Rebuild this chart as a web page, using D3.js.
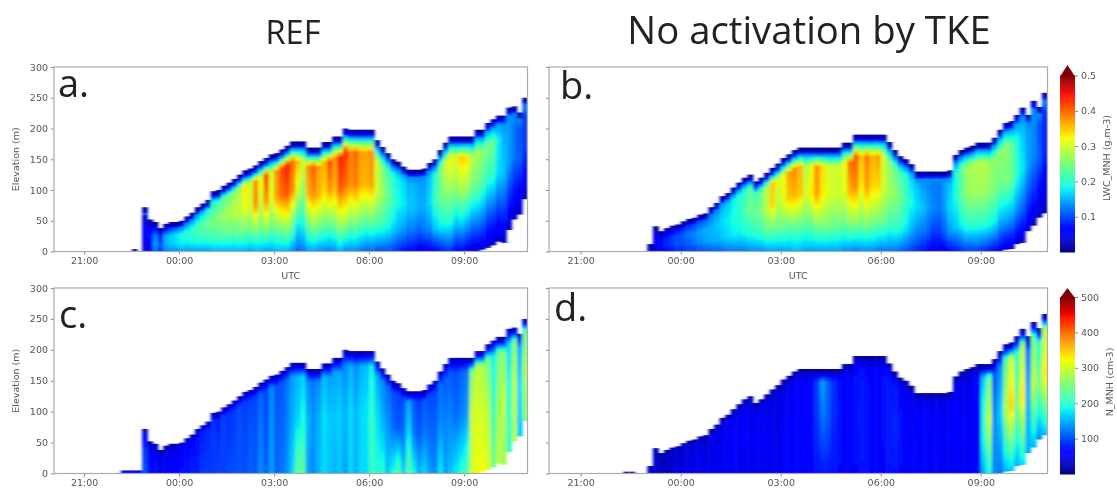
<!DOCTYPE html>
<html>
<head>
<meta charset="utf-8">
<script src="https://cdn.jsdelivr.net/npm/d3@7"></script>
<style>
  html, body { margin: 0; padding: 0; background: #fff; }
  svg { display: block; filter: blur(0.45px); }
  text { font-family: "DejaVu Sans", sans-serif; fill: #555; }
  .title, .letter { font-family: "Open Sans", sans-serif; fill: #222; }
</style>
</head>
<body>
<script>
//////////////////////
// Data, one column every 10 minutes from 22:50 to 11:00 UTC
//////////////////////

// cloud top and base (m)
var topRef = [72,52,48,38,45,48,48,50,57,63,72,78,84,98,100,107,112,118,125,132,135,140,147,152,158,160,166,172,179,179,179,169,169,169,178,178,187,187,200,198,198,198,198,198,181,170,160,150,146,138,133,133,133,135,144,150,165,177,187,187,187,187,187,198,198,209,215,221,221,234,236,226,250];
var baseRef = [0,0,0,0,0,0,0,0,0,0,0,0,0,0,0,0,0,0,0,0,0,0,0,0,0,0,0,0,0,0,0,0,0,0,0,0,0,0,0,0,0,0,0,0,0,0,0,0,0,0,0,0,0,0,0,0,0,0,0,0,0,0,0,0,3,6,10,16,14,35,52,60,85];
var topNoAct = [0,12,41,33,38,42,44,49,53,55,60,62,72,79,90,95,104,112,120,125,114,120,128,136,143,152,158,165,169,169,169,169,169,169,169,169,177,177,190,190,190,190,190,190,178,165,155,150,142,130,130,130,130,130,130,132,157,165,169,172,177,177,177,185,198,209,212,222,234,222,245,235,258];
var baseNoAct = [0,0,0,0,0,0,0,0,0,0,0,0,0,0,0,0,0,0,0,0,0,0,0,0,0,0,0,0,0,0,0,0,0,0,0,0,0,0,0,0,0,0,0,0,0,0,0,0,0,0,0,0,0,0,0,0,0,0,0,0,0,0,0,0,0,3,4,12,14,33,42,55,62];

// LWC_MNH in 0.01 g m-3, REF run, at 0, 25, 55 and 82 % of the column
var lwcRef0 = [4,5,12,8,12,13,13,14,14,14,14,14,14,15,15,15,15,15,15,15,14,15,15,14,14,15,15,15,13,11,12,14,14,13,13,12,13,15,13,13,13,12,11,11,10,10,10,9,8,7,6,6,5,5,5,6,7,8,8,6,6,5,4,4,4,3,3,3,3,3,3,3,3];
var lwcRef1 = [5,6,14,10,15,16,17,18,18,19,20,20,21,22,22,23,23,23,24,24,24,25,24,26,24,25,26,28,24,18,19,24,26,25,24,24,25,28,28,25,26,24,23,24,22,21,19,17,15,14,12,12,11,12,13,16,18,19,19,16,17,15,13,13,12,10,10,9,9,8,7,6,6];
var lwcRef2 = [5,7,12,8,15,16,18,19,20,21,22,23,24,25,26,27,28,29,29,32,30,38,30,38,31,37,40,41,38,30,26,36,38,36,34,37,36,41,40,38,39,36,36,37,30,27,24,21,19,18,16,16,15,15,17,21,24,26,27,26,28,27,24,24,22,20,20,17,16,14,12,11,9];
var lwcRef3 = [3,4,5,3,6,8,10,11,12,13,14,16,18,20,20,23,24,26,28,33,30,38,32,42,30,38,42,44,40,36,30,38,41,37,36,42,38,44,43,39,40,37,37,38,30,25,22,20,18,17,15,15,14,14,16,20,25,30,33,31,35,34,29,28,26,25,24,18,15,14,12,10,9];

// LWC_MNH, no activation by TKE
var lwcNoAct0 = [0,3,4,5,6,7,8,8,9,9,10,10,10,11,11,12,12,12,12,13,13,13,14,14,14,14,14,15,15,14,14,14,14,14,14,14,13,13,12,13,13,13,12,12,12,12,11,10,9,8,7,6,5,5,5,6,7,8,9,9,9,8,7,6,5,4,4,3,3,3,3,3,3];
var lwcNoAct1 = [0,3,5,6,8,9,10,10,11,12,13,14,15,15,16,17,18,18,19,20,20,21,23,23,23,24,23,24,23,23,23,25,25,25,24,24,24,25,26,25,26,25,24,24,21,21,20,18,15,13,12,11,9,9,11,14,16,18,20,20,20,20,19,18,15,15,14,13,11,9,8,6,5];
var lwcNoAct2 = [0,3,5,6,8,9,10,11,12,13,14,15,15,16,17,18,19,20,22,24,24,25,29,34,29,31,35,36,35,30,33,37,33,31,30,30,31,36,38,33,37,34,34,30,28,26,24,21,19,17,16,14,13,12,14,17,19,23,26,27,27,27,26,25,24,25,24,20,18,14,13,11,8];
var lwcNoAct3 = [0,2,3,3,4,5,6,7,8,9,10,11,12,13,15,16,18,19,20,23,22,24,28,35,31,32,37,38,36,28,32,38,34,30,30,30,32,40,41,35,39,36,37,30,26,24,22,20,17,16,14,13,12,12,14,16,19,23,27,28,28,29,27,26,26,26,24,19,16,14,13,10,8];

// N_MNH in cm-3, REF run, at 0, 50 and 88 % of the column
var nRef0 = [100,60,70,50,50,55,60,70,70,80,75,90,90,90,95,90,100,100,100,100,110,105,130,110,140,110,120,135,170,240,230,140,130,150,170,160,150,160,140,170,150,170,170,210,190,200,160,190,230,170,230,190,150,170,140,130,180,140,160,180,200,220,300,320,320,310,240,290,270,210,280,160,250];
var nRef1 = [90,50,65,45,50,50,55,60,65,70,70,80,85,90,85,95,90,95,100,95,105,100,120,100,135,105,110,125,150,165,190,150,135,150,175,160,160,165,150,170,150,170,175,205,175,150,135,115,105,115,170,120,105,120,110,110,130,125,125,115,125,140,295,305,300,285,205,265,290,190,290,170,275];
var nRef2 = [50,40,40,30,35,35,40,50,55,60,65,75,80,85,75,90,85,90,95,90,95,95,110,95,130,100,105,120,140,150,165,130,120,130,155,140,140,145,130,150,130,150,155,180,150,130,115,100,95,100,140,105,90,105,95,95,115,105,105,100,110,120,260,285,275,250,180,240,260,170,255,145,235];

// N_MNH, no activation by TKE
var nNoAct0 = [0,25,35,30,30,35,40,45,45,45,50,50,45,50,50,50,50,50,50,50,50,50,50,50,50,55,60,60,60,60,60,70,70,70,70,65,60,60,65,70,70,60,60,60,70,70,65,60,55,55,50,50,50,50,50,50,50,50,50,55,55,150,190,130,120,150,160,150,170,150,150,130,150];
var nNoAct1 = [0,30,35,30,30,35,35,40,40,45,45,40,50,45,50,55,60,50,55,50,50,55,50,50,45,50,55,60,60,55,65,85,115,105,80,70,65,60,70,75,70,65,60,70,75,80,70,55,50,55,60,55,50,60,50,55,60,55,50,65,60,210,295,130,165,280,345,250,335,150,290,250,335];
var nNoAct2 = [0,25,30,25,25,30,30,35,35,40,40,35,45,40,45,50,50,45,50,45,45,50,45,45,40,45,50,55,60,55,65,90,140,110,85,70,60,55,65,70,65,60,55,65,70,70,60,50,45,50,50,50,45,50,45,50,50,50,45,60,55,160,240,100,130,230,300,200,280,120,240,200,280];

// small patches before the main cloud: minutes after 22:00, top (m), value
var strayRefLwc = [[31, 4, 6]];
var strayRefN = [[10, 5, 60], [20, 5, 60], [30, 5, 60], [40, 5, 60]];
var strayNoActN = [[17, 3, 40], [28, 3, 40]];

var xTicks = ["21:00", "00:00", "03:00", "06:00", "09:00"];
var yTicks = [0, 50, 100, 150, 200, 250, 300];
var lwcTicks = [0.1, 0.2, 0.3, 0.4, 0.5];
var nTicks = [100, 200, 300, 400, 500];

//////////////////////
// Colours
//////////////////////

var jetR = d3.scaleLinear().domain([0, 0.35, 0.66, 0.89, 1]).range([0, 0, 255, 255, 128]);
var jetG = d3.scaleLinear().domain([0, 0.125, 0.375, 0.64, 0.91, 1]).range([0, 0, 255, 255, 0, 0]);
var jetB = d3.scaleLinear().domain([0, 0.11, 0.34, 0.65, 1]).range([128, 255, 255, 0, 0]);

function jet(f) {
    f = Math.max(0, Math.min(1, f));
    return d3.rgb(jetR(f), jetG(f), jetB(f)).formatRgb();
}

var lwcColor = function(v) { return jet(v / 50); };
var nColor = function(v) { return jet(v / 500); };

//////////////////////
// Layout
//////////////////////

var svg = d3.select("body").append("svg").attr("width", 1117).attr("height", 493);

var defs = svg.append("defs");
defs.append("filter").attr("id", "smear")
    .attr("x", "-2%").attr("width", "104%")
    .append("feGaussianBlur").attr("stdDeviation", "1.6 0.5");

var t0 = new Date(Date.UTC(2020, 0, 1, 20, 3));
var t1 = new Date(Date.UTC(2020, 0, 2, 11, 0));
var tStart = Date.UTC(2020, 0, 1, 22, 50);
var minute = 60000;

function tickDate(label) {
    var parts = label.split(":");
    var hour = +parts[0];
    return new Date(Date.UTC(2020, 0, hour >= 20 ? 1 : 2, hour, +parts[1]));
}

var gradId = 0;

//////////////////////
// Panels
//////////////////////

function drawPanel(p) {
    var x = d3.scaleUtc().domain([t0, t1]).range([p.left, p.right]);
    var y = d3.scaleLinear().domain([0, 300]).range([p.bottom, p.top]);
    var g = svg.append("g");
    var cloud = g.append("g").attr("filter", "url(#smear)");

    p.tops.forEach(function(top, i) {
        var base = p.bases[i];
        var h = top - base;
        if (h <= 0) { return; }

        // profile of this column, rel. height -> value
        var pos = p.levels.slice();
        var vals = p.series.map(function(s) { return s[i]; });
        p.capDepth.forEach(function(depth, k) {
            var rel = 1 - depth / h;
            if (rel > pos[pos.length - 1]) {
                pos.push(rel);
                vals.push(p.capValue[k]);
            }
        });
        if (pos[pos.length - 1] < 1) {
            pos.push(1);
            vals.push(p.capValue[p.capValue.length - 1]);
        }
        var profile = d3.scaleLinear().domain(pos).range(vals);

        var id = "col" + (gradId++);
        var grad = defs.append("linearGradient").attr("id", id)
            .attr("x1", 0).attr("y1", 1).attr("x2", 0).attr("y2", 0);
        d3.range(0, 1.001, 0.03).forEach(function(f) {
            grad.append("stop")
                .attr("offset", f)
                .attr("stop-color", p.color(profile(f)));
        });

        var xa = x(new Date(tStart + i * 10 * minute));
        var xb = x(new Date(tStart + (i + 1) * 10 * minute));
        cloud.append("rect")
            .attr("x", xa)
            .attr("width", xb - xa + 0.4)
            .attr("y", y(top))
            .attr("height", y(base) - y(top))
            .attr("fill", "url(#" + id + ")");
    });

    (p.stray || []).forEach(function(d) {
        var when = new Date(Date.UTC(2020, 0, 1, 22, d[0]));
        cloud.append("rect")
            .attr("x", x(when))
            .attr("width", x(new Date(+when + 10 * minute)) - x(when))
            .attr("y", y(d[1]))
            .attr("height", y(0) - y(d[1]))
            .attr("fill", p.color(d[2]));
    });

    // mask the smear at the frame
    g.append("rect").attr("x", p.right + 0.5).attr("y", p.top - 2).attr("width", 12).attr("height", p.bottom - p.top + 4).attr("fill", "#fff");
    g.append("rect").attr("x", p.left).attr("y", p.bottom + 0.5).attr("width", p.right - p.left).attr("height", 6).attr("fill", "#fff");

    var xAxis = d3.axisBottom(x)
        .tickValues(xTicks.map(tickDate))
        .tickFormat(d3.utcFormat("%H:%M"))
        .tickSize(3).tickPadding(3);
    var yAxis = d3.axisLeft(y)
        .tickValues(yTicks)
        .tickSize(3).tickPadding(3);
    if (!p.yLabels) { yAxis.tickFormat(""); }

    var ax = g.append("g").attr("transform", "translate(0," + p.bottom + ")").call(xAxis);
    var ay = g.append("g").attr("transform", "translate(" + p.left + ",0)").call(yAxis);
    [ax, ay].forEach(function(a) {
        a.select(".domain").remove();
        a.selectAll("line").attr("stroke", "#888");
        a.selectAll("text").attr("font-size", 9.5).attr("font-family", "DejaVu Sans").attr("fill", "#555");
    });

    g.append("rect")
        .attr("x", p.left).attr("y", p.top)
        .attr("width", p.right - p.left).attr("height", p.bottom - p.top)
        .attr("fill", "none").attr("stroke", "#aaa").attr("stroke-width", 1.2);

    if (p.yLabels) {
        g.append("text")
            .attr("transform", "translate(19," + (p.top + p.bottom) / 2 + ") rotate(-90)")
            .attr("text-anchor", "middle").attr("font-size", 9.5)
            .text("Elevation (m)");
    }
    if (p.utc) {
        g.append("text")
            .attr("x", (p.left + p.right) / 2 + 0)
            .attr("y", p.bottom + 27)
            .attr("text-anchor", "middle").attr("font-size", 9.5)
            .text("UTC");
    }
    g.append("text").attr("class", "letter")
        .attr("x", p.left + p.letterDx).attr("y", p.top + p.letterDy)
        .attr("font-size", 38)
        .text(p.letter);
}

var lwcLevels = [0, 0.25, 0.55, 0.82];
var nLevels = [0, 0.5, 0.88];

drawPanel({
    letter: "a.", letterDx: 4, letterDy: 30, left: 54, right: 527.5, top: 67, bottom: 251.5,
    tops: topRef, bases: baseRef, yLabels: true, utc: true, color: lwcColor,
    levels: lwcLevels, series: [lwcRef0, lwcRef1, lwcRef2, lwcRef3],
    capDepth: [12, 7, 0], capValue: [13, 3, 1], stray: strayRefLwc
});
drawPanel({
    letter: "b.", letterDx: 11, letterDy: 32, left: 549, right: 1047.5, top: 67, bottom: 251.5,
    tops: topNoAct, bases: baseNoAct, yLabels: false, utc: true, color: lwcColor,
    levels: lwcLevels, series: [lwcNoAct0, lwcNoAct1, lwcNoAct2, lwcNoAct3],
    capDepth: [12, 7, 0], capValue: [13, 3, 1]
});
drawPanel({
    letter: "c.", letterDx: 5, letterDy: 40, left: 54, right: 527.5, top: 288, bottom: 473.5,
    tops: topRef, bases: baseRef, yLabels: true, utc: false, color: nColor,
    levels: nLevels, series: [nRef0, nRef1, nRef2],
    capDepth: [7, 0], capValue: [45, 15], stray: strayRefN
});
drawPanel({
    letter: "d.", letterDx: 5, letterDy: 33, left: 549, right: 1047.5, top: 288, bottom: 473.5,
    tops: topNoAct, bases: baseNoAct, yLabels: false, utc: false, color: nColor,
    levels: nLevels, series: [nNoAct0, nNoAct1, nNoAct2],
    capDepth: [7, 0], capValue: [30, 12], stray: strayNoActN
});

//////////////////////
// Titles
//////////////////////

svg.append("text").attr("class", "title")
    .attr("x", 293).attr("y", 44).attr("text-anchor", "middle").attr("font-size", 32.5)
    .text("REF");
svg.append("text").attr("class", "title")
    .attr("x", 809).attr("y", 44).attr("text-anchor", "middle").attr("font-size", 38.3)
    .text("No activation by TKE");

//////////////////////
// Colorbars
//////////////////////

function drawColorbar(c) {
    var y = d3.scaleLinear().domain([0, c.max]).range([c.bottom, c.maxY]);
    var g = svg.append("g");
    var step = c.max / 180;
    g.selectAll("rect").data(d3.range(0, c.max, step)).enter().append("rect")
        .attr("x", 1060).attr("width", 15)
        .attr("y", function(d) { return y(d + step); })
        .attr("height", function(d) { return y(d) - y(d + step) + 0.5; })
        .attr("fill", function(d) { return jet(d / c.max); });
    g.append("path")
        .attr("d", d3.line()([[1060, c.maxY + 1], [1067.5, c.tip], [1075, c.maxY + 1]]))
        .attr("fill", "#7f0000");

    var axis = d3.axisRight(y).tickValues(c.ticks).tickFormat(String).tickSize(3).tickPadding(3);
    var a = g.append("g").attr("transform", "translate(1075,0)").call(axis);
    a.select(".domain").remove();
    a.selectAll("line").attr("stroke", "#888");
    a.selectAll("text").attr("font-size", 9.5).attr("font-family", "DejaVu Sans").attr("fill", "#555");

    g.append("text")
        .attr("transform", "translate(" + c.labelX + "," + c.labelY + ") rotate(-90)")
        .attr("text-anchor", "middle").attr("font-size", 9.5)
        .text(c.label);
}

drawColorbar({ max: 0.5, bottom: 252, maxY: 75.5, tip: 65, ticks: lwcTicks, label: "LWC_MNH (g.m-3)", labelX: 1110, labelY: 158 });
drawColorbar({ max: 500, bottom: 474, maxY: 297, tip: 288, ticks: nTicks, label: "N_MNH (cm-3)", labelX: 1113, labelY: 382 });
</script>
</body>
</html>
